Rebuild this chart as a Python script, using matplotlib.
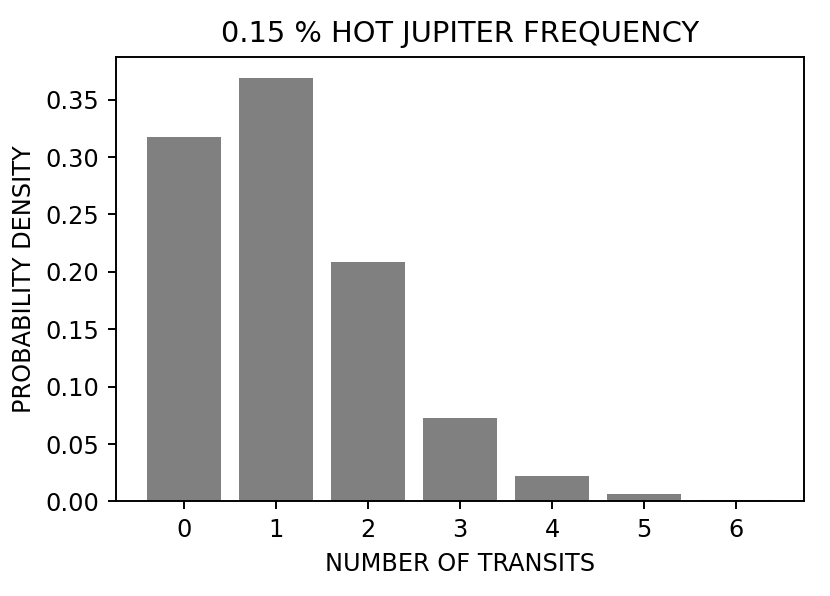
import matplotlib
matplotlib.use('Agg')
import matplotlib.pyplot as plt

transits = [0, 1, 2, 3, 4, 5, 6]
density = [0.3175, 0.369, 0.2088, 0.0731, 0.0222, 0.0065, 0.0009]

fig = plt.figure(figsize=(830 / 173, 596 / 173), dpi=173)
ax = fig.add_axes([0.1398, 0.1586, 0.829, 0.7464])
ax.bar(transits, density, color='gray')
ax.set_xticks(transits)
ax.set_title('0.15 % HOT JUPITER FREQUENCY')
ax.set_xlabel('NUMBER OF TRANSITS')
ax.set_ylabel('PROBABILITY DENSITY')
fig.savefig('out.png', dpi=173)
